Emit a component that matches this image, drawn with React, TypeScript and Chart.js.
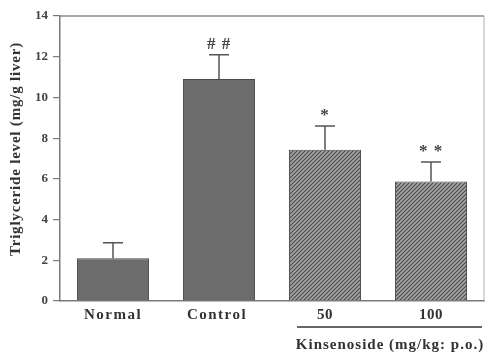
import React, { useEffect, useRef } from "react";
import { Chart, registerables } from "chart.js";

Chart.register(...registerables);

const categories = ["Normal", "Control", "50", "100"];
const means = [2.1, 10.9, 7.43, 5.87];
const errors = [0.76, 1.2, 1.17, 0.96];
const marks = ["", "# #", "*", "* *"];
const yTicks = [0, 2, 4, 6, 8, 10, 12, 14];
const groupLabel = "Kinsenoside (mg/kg: p.o.)";
const yTitle = "Triglyceride level (mg/g liver)";

function makeHatch(): CanvasPattern | string {
  const c = document.createElement("canvas");
  c.width = 4;
  c.height = 4;
  const g = c.getContext("2d");
  if (!g) return "#888";
  g.fillStyle = "#a4a4a4";
  g.fillRect(0, 0, 4, 4);
  g.strokeStyle = "#4a4a4a";
  g.lineWidth = 1.1;
  g.beginPath();
  g.moveTo(-1, 5);
  g.lineTo(5, -1);
  g.moveTo(-1, 1);
  g.lineTo(1, -1);
  g.moveTo(3, 5);
  g.lineTo(5, 3);
  g.stroke();
  const p = g.createPattern(c, "repeat");
  return p || "#888";
}

export default function App() {
  const ref = useRef<HTMLCanvasElement>(null);

  useEffect(() => {
    if (!ref.current) return;
    const hatch = makeHatch();
    const solid = "#6c6c6c";
    const serif = "'Liberation Serif', 'DejaVu Serif', serif";

    const decor = {
      id: "decor",
      afterDatasetsDraw(chart: any) {
        const ctx = chart.ctx;
        const ys = chart.scales.y;
        const xs = chart.scales.x;
        const ca = chart.chartArea;
        ctx.save();
        // top and right border
        ctx.strokeStyle = "#8a8a8a";
        ctx.lineWidth = 1.5;
        ctx.beginPath();
        ctx.moveTo(ca.left, ca.top);
        ctx.lineTo(ca.right, ca.top);
        ctx.stroke();
        ctx.strokeStyle = "#b0b0b0";
        ctx.lineWidth = 1;
        ctx.beginPath();
        ctx.moveTo(ca.right, ca.top);
        ctx.lineTo(ca.right, ca.bottom);
        ctx.stroke();
        // error bars and marks
        for (let i = 0; i < categories.length; i++) {
          const x = xs.getPixelForValue(i);
          const yTop = ys.getPixelForValue(means[i]);
          const yCap = ys.getPixelForValue(means[i] + errors[i]);
          ctx.strokeStyle = "#555";
          ctx.lineWidth = 1.5;
          ctx.beginPath();
          ctx.moveTo(x, yTop);
          ctx.lineTo(x, yCap);
          ctx.moveTo(x - 10, yCap);
          ctx.lineTo(x + 10, yCap);
          ctx.stroke();
          if (marks[i]) {
            ctx.fillStyle = "#444";
            ctx.font = "bold 17px " + serif;
            ctx.textAlign = "center";
            ctx.textBaseline = "middle";
            (ctx as any).letterSpacing = "1px";
            ctx.fillText(marks[i], x, yCap - 10);
          }
        }
        // category labels
        ctx.fillStyle = "#333";
        ctx.textAlign = "center";
        ctx.textBaseline = "middle";
        (ctx as any).letterSpacing = "1.5px";
        ctx.font = "bold 15px " + serif;
        ctx.fillText(categories[0], xs.getPixelForValue(0), 315);
        ctx.fillText(categories[1], xs.getPixelForValue(1) - 2, 315);
        (ctx as any).letterSpacing = "0.5px";
        ctx.font = "bold 15px " + serif;
        ctx.fillText(categories[2], xs.getPixelForValue(2), 315);
        ctx.fillText(categories[3], xs.getPixelForValue(3), 315);
        // group line
        ctx.strokeStyle = "#333";
        ctx.lineWidth = 1.5;
        ctx.beginPath();
        ctx.moveTo(297, 327);
        ctx.lineTo(482, 327);
        ctx.stroke();
        (ctx as any).letterSpacing = "1px";
        ctx.font = "bold 15px " + serif;
        ctx.fillText(groupLabel, (xs.getPixelForValue(2) + xs.getPixelForValue(3)) / 2 + 12, 345);
        // y title
        ctx.translate(16, 149);
        ctx.rotate(-Math.PI / 2);
        (ctx as any).letterSpacing = "0.8px";
        ctx.font = "bold 15px " + serif;
        ctx.fillText(yTitle, 0, 0);
        ctx.restore();
      },
    };

    const chart = new Chart(ref.current, {
      type: "bar",
      data: {
        labels: categories,
        datasets: [
          {
            data: means,
            backgroundColor: [solid, solid, hatch, hatch] as any,
            borderColor: "#4a4a4a",
            borderWidth: 1,
            barPercentage: 0.68,
            categoryPercentage: 1,
          },
        ],
      },
      options: {
        responsive: false,
        animation: false,
        layout: { padding: { top: 16, right: 2, left: 0, bottom: 0 } },
        plugins: { legend: { display: false }, tooltip: { enabled: false } },
        scales: {
          x: {
            ticks: { display: false },
            grid: { display: false },
            border: { display: true, color: "#7a7a7a", width: 1.5 },
            afterFit: (s: any) => {
              s.height = 53;
            },
          },
          y: {
            min: 0,
            max: 14,
            afterBuildTicks: (s: any) => {
              s.ticks = yTicks.map((v) => ({ value: v }));
            },
            ticks: {
              color: "#444",
              font: { family: serif, size: 13, weight: "bold" },
              padding: 5,
            },
            grid: {
              drawOnChartArea: false,
              drawTicks: true,
              tickLength: 7,
              color: "#7a7a7a",
              lineWidth: 1.2,
            },
            border: { display: true, color: "#7a7a7a", width: 1.5 },
            afterFit: (s: any) => {
              s.width = 60;
            },
          },
        },
      },
      plugins: [decor],
    });
    return () => chart.destroy();
  }, []);

  return (
    <div style={{ position: "fixed", left: 0, top: 0, width: 486, height: 354, background: "#fff" }}>
      <canvas ref={ref} width={486} height={354} />
    </div>
  );
}
